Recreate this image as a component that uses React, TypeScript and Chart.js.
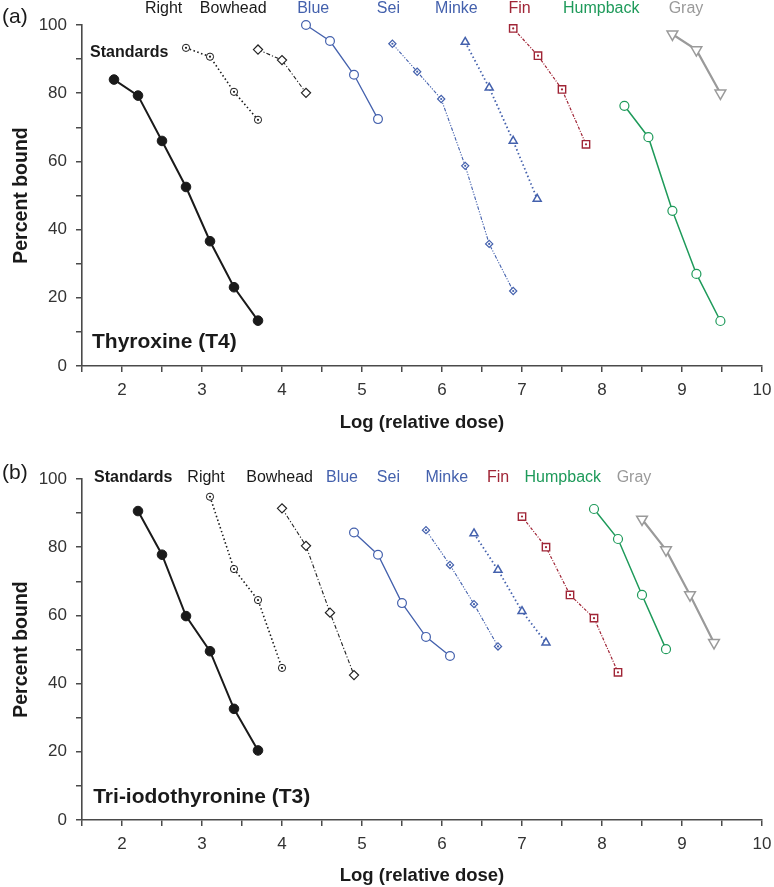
import React, { useEffect, useRef } from 'react';
import { Chart, registerables } from 'chart.js';

Chart.register(...registerables);

// ---------- Data ----------
const seriesNames = ['Standards', 'Right', 'Bowhead', 'Blue', 'Sei', 'Minke', 'Fin', 'Humpback', 'Gray'];

// Panel (a) Thyroxine (T4)
const t4X = [
  [1.9, 2.2, 2.5, 2.8, 3.1, 3.4, 3.7],
  [2.8, 3.1, 3.4, 3.7],
  [3.7, 4.0, 4.3],
  [4.3, 4.6, 4.9, 5.2],
  [5.38, 5.69, 5.99, 6.29, 6.59, 6.89],
  [6.29, 6.59, 6.89, 7.19],
  [6.89, 7.2, 7.5, 7.8],
  [8.28, 8.58, 8.88, 9.18, 9.48],
  [8.88, 9.18, 9.48],
];
const t4Y = [
  [84, 79.3, 66, 52.5, 36.6, 23.1, 13.3],
  [93.3, 90.7, 80.4, 72.2],
  [92.8, 89.7, 80.1],
  [100, 95.3, 85.4, 72.4],
  [94.5, 86.3, 78.3, 58.7, 35.8, 22],
  [95, 81.6, 66, 49],
  [99, 91, 81.1, 65],
  [76.3, 67.1, 45.5, 27, 13.2],
  [97.3, 92.7, 80],
];

// Panel (b) Tri-iodothyronine (T3)
const t3X = [
  [2.2, 2.5, 2.8, 3.1, 3.4, 3.7],
  [3.1, 3.4, 3.7, 4.0],
  [4.0, 4.3, 4.6, 4.9],
  [4.9, 5.2, 5.5, 5.8, 6.1],
  [5.8, 6.1, 6.4, 6.7],
  [6.4, 6.7, 7.0, 7.3],
  [7.0, 7.3, 7.6, 7.9, 8.2],
  [7.9, 8.2, 8.5, 8.8],
  [8.5, 8.8, 9.1, 9.4],
];
const t3Y = [
  [90.6, 77.8, 59.8, 49.5, 32.6, 20.4],
  [94.8, 73.6, 64.5, 44.6],
  [91.4, 80.4, 60.8, 42.5],
  [84.3, 77.8, 63.6, 53.7, 48.1],
  [85, 74.8, 63.3, 50.9],
  [84, 73.3, 61.2, 52],
  [89, 80, 66, 59.2, 43.3],
  [91.2, 82.4, 66, 50.1],
  [88.2, 79.2, 66, 52],
];

// Series label anchors (data coordinates)
const t4LabelX = [2.09, 2.52, 3.39, 4.39, 5.33, 6.18, 6.97, 7.99, 9.05];
const t4LabelY = [91.8, 104.7, 104.7, 104.7, 104.7, 104.7, 104.7, 104.7, 104.7];
const t3LabelX = [2.14, 3.05, 3.97, 4.75, 5.33, 6.06, 6.7, 7.51, 8.4];
const t3LabelY = [100.3, 100.3, 100.3, 100.3, 100.3, 100.3, 100.3, 100.3, 100.3];

const xTickMin = 1.5;
const xTickMax = 10;
const yTickMin = 0;
const yTickMax = 100;

// ---------- Styles ----------
const BLUE = '#4461ad';
const RED = '#a02536';
const GREEN = '#1e9a5a';
const GRAY = '#9a9a9a';
const BLACK = '#1a1a1a';
const FONT = '"Liberation Sans", Arial, Helvetica, sans-serif';

const seriesColors = [BLACK, BLACK, BLACK, BLUE, BLUE, BLUE, RED, GREEN, GRAY];

type Style = {
  color: string;
  width: number;
  dash: number[];
  point: string;
  radius: number;
  fill: string;
  pointBorder: number;
  rotation: number;
  centerDot: boolean;
};

const seriesStyles: Style[] = [
  { color: BLACK, width: 2, dash: [], point: 'circle', radius: 4.8, fill: BLACK, pointBorder: 1, rotation: 0, centerDot: false },
  { color: BLACK, width: 1.6, dash: [1.5, 2.5], point: 'circle', radius: 3.6, fill: '#fff', pointBorder: 1, rotation: 0, centerDot: true },
  { color: '#222', width: 1.1, dash: [4, 2, 1.2, 2], point: 'rectRot', radius: 4.6, fill: '#fff', pointBorder: 1.2, rotation: 0, centerDot: false },
  { color: BLUE, width: 1.3, dash: [], point: 'circle', radius: 4.4, fill: '#fff', pointBorder: 1.2, rotation: 0, centerDot: false },
  { color: BLUE, width: 1.1, dash: [3.5, 1.5, 1.2, 1.5, 1.2, 1.5], point: 'rectRot', radius: 3.6, fill: '#fff', pointBorder: 1.2, rotation: 0, centerDot: true },
  { color: BLUE, width: 1.8, dash: [1.5, 2.6], point: 'triangle', radius: 4.6, fill: '#fff', pointBorder: 1.5, rotation: 0, centerDot: false },
  { color: RED, width: 1.2, dash: [3, 1.5, 1, 1.5], point: 'rect', radius: 5.2, fill: '#fff', pointBorder: 1.4, rotation: 0, centerDot: true },
  { color: GREEN, width: 1.5, dash: [], point: 'circle', radius: 4.5, fill: '#fff', pointBorder: 1.2, rotation: 0, centerDot: false },
  { color: GRAY, width: 2.2, dash: [], point: 'triangle', radius: 6.2, fill: '#fff', pointBorder: 1.5, rotation: 180, centerDot: false },
];

function buildDatasets(xs: number[][], ys: number[][]) {
  return seriesNames.map((name, i) => {
    const s = seriesStyles[i];
    return {
      label: name,
      data: xs[i].map((x, j) => ({ x, y: ys[i][j] })),
      showLine: true,
      borderColor: s.color,
      borderWidth: s.width,
      borderDash: s.dash,
      pointStyle: s.point,
      pointRadius: s.radius,
      pointBackgroundColor: s.fill,
      pointBorderColor: s.color,
      pointBorderWidth: s.pointBorder,
      pointRotation: s.rotation,
      clip: false as any,
      centerDot: s.centerDot,
    } as any;
  });
}

function makeTextPlugin(cfg: {
  panel: string;
  panelY: number;
  labelX: number[];
  labelY: number[];
  title: string;
  titleX: number;
  titleY: number;
}) {
  return {
    id: 'textOverlay' + cfg.panel,
    afterDatasetsDraw(chart: any) {
      const ctx = chart.ctx as CanvasRenderingContext2D;
      chart.data.datasets.forEach((ds: any, i: number) => {
        if (!ds.centerDot) return;
        const meta = chart.getDatasetMeta(i);
        ctx.save();
        ctx.fillStyle = ds.borderColor;
        meta.data.forEach((el: any) => {
          ctx.beginPath();
          ctx.arc(el.x, el.y, 1.1, 0, Math.PI * 2);
          ctx.fill();
        });
        ctx.restore();
      });
    },
    afterDraw(chart: any) {
      const ctx = chart.ctx as CanvasRenderingContext2D;
      const xs = chart.scales.x;
      const ys = chart.scales.y;
      ctx.save();
      ctx.textBaseline = 'middle';
      seriesNames.forEach((name, i) => {
        ctx.font = (i === 0 ? 'bold ' : '') + '16px ' + FONT;
        ctx.fillStyle = seriesColors[i];
        ctx.textAlign = 'center';
        ctx.fillText(name, xs.getPixelForValue(cfg.labelX[i]), ys.getPixelForValue(cfg.labelY[i]));
      });
      ctx.font = 'bold 21px ' + FONT;
      ctx.fillStyle = BLACK;
      ctx.textAlign = 'left';
      ctx.fillText(cfg.title, xs.getPixelForValue(cfg.titleX), ys.getPixelForValue(cfg.titleY));
      ctx.font = '21px ' + FONT;
      ctx.fillStyle = BLACK;
      ctx.textAlign = 'left';
      ctx.fillText(cfg.panel, 2, cfg.panelY);
      ctx.restore();
    },
  };
}

function makeOptions(top: number, xHeight: number) {
  const axisColor = '#4a4a4a';
  return {
    responsive: false,
    animation: false as const,
    devicePixelRatio: 1,
    layout: { padding: { top, right: 12, left: 0, bottom: 0 } },
    plugins: { legend: { display: false }, tooltip: { enabled: false } },
    scales: {
      x: {
        type: 'linear' as const,
        min: xTickMin,
        max: xTickMax,
        afterFit: (s: any) => {
          s.height = xHeight;
          s.paddingRight = 0;
          s.paddingLeft = 0;
        },
        ticks: {
          stepSize: 0.5,
          autoSkip: false,
          maxRotation: 0,
          padding: 8,
          color: '#333',
          font: { family: FONT, size: 17 },
          callback: (v: any) => (Math.abs(v - Math.round(v)) < 1e-6 ? String(Math.round(v)) : ''),
        },
        grid: { display: true, drawOnChartArea: false, drawTicks: true, tickLength: 6, color: axisColor, lineWidth: 1.5 },
        border: { display: true, color: axisColor, width: 1.6 },
        title: {
          display: true,
          text: 'Log (relative dose)',
          color: BLACK,
          font: { family: FONT, size: 18.5, weight: 'bold' as const },
          padding: { top: 0, bottom: 0 },
        },
      },
      y: {
        type: 'linear' as const,
        min: yTickMin,
        max: yTickMax,
        afterFit: (s: any) => {
          s.width = 82;
          s.paddingTop = 0;
          s.paddingBottom = 0;
        },
        ticks: {
          stepSize: 10,
          autoSkip: false,
          padding: 9,
          color: '#333',
          font: { family: FONT, size: 17 },
          callback: (v: any) => (Math.round(v) % 20 === 0 ? String(Math.round(v)) : ''),
        },
        grid: { display: true, drawOnChartArea: false, drawTicks: true, tickLength: 6, color: axisColor, lineWidth: 1.5 },
        border: { display: true, color: axisColor, width: 1.6 },
        title: {
          display: true,
          text: 'Percent bound',
          color: BLACK,
          font: { family: FONT, size: 19.5, weight: 'bold' as const },
          padding: { top: 10, bottom: 0 },
        },
      },
    },
  };
}

function Panel(props: {
  height: number;
  top: number;
  plotTop: number;
  xHeight: number;
  xs: number[][];
  ys: number[][];
  labelX: number[];
  labelY: number[];
  panel: string;
  panelY: number;
  title: string;
  titleX: number;
  titleY: number;
}) {
  const ref = useRef<HTMLCanvasElement | null>(null);
  useEffect(() => {
    if (!ref.current) return;
    const chart = new Chart(ref.current, {
      type: 'scatter',
      data: { datasets: buildDatasets(props.xs, props.ys) },
      options: makeOptions(props.plotTop, props.xHeight) as any,
      plugins: [
        makeTextPlugin({
          panel: props.panel,
          panelY: props.panelY,
          labelX: props.labelX,
          labelY: props.labelY,
          title: props.title,
          titleX: props.titleX,
          titleY: props.titleY,
        }),
      ],
    });
    return () => chart.destroy();
  }, []);
  return (
    <canvas
      ref={ref}
      width={774}
      height={props.height}
      style={{ position: 'absolute', left: 0, top: props.top, width: 774, height: props.height, display: 'block' }}
    />
  );
}

export default function App() {
  return (
    <div style={{ position: 'absolute', left: 0, top: 0, width: 774, height: 887, background: '#fff' }}>
      <Panel
        height={434}
        top={0}
        plotTop={25}
        xHeight={68}
        xs={t4X}
        ys={t4Y}
        labelX={t4LabelX}
        labelY={t4LabelY}
        panel="(a)"
        panelY={17}
        title="Thyroxine (T4)"
        titleX={1.625}
        titleY={6.9}
      />
      <Panel
        height={453}
        top={434}
        plotTop={45}
        xHeight={67}
        xs={t3X}
        ys={t3Y}
        labelX={t3LabelX}
        labelY={t3LabelY}
        panel="(b)"
        panelY={39}
        title="Tri-iodothyronine (T3)"
        titleX={1.64}
        titleY={6.7}
      />
    </div>
  );
}
